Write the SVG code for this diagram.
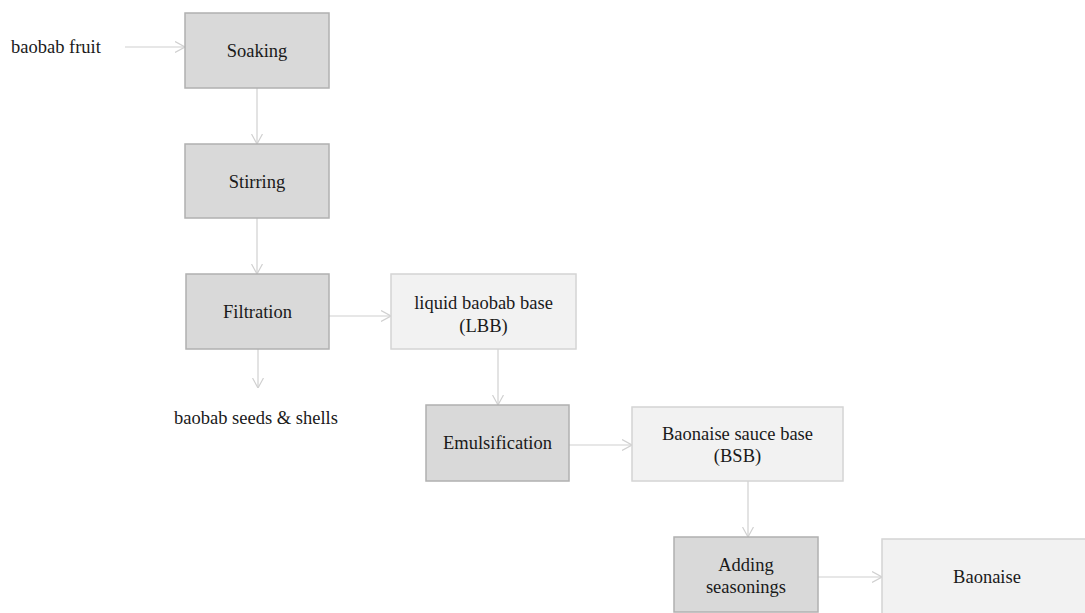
<svg xmlns="http://www.w3.org/2000/svg" width="1085" height="613" viewBox="0 0 1085 613">
<style>
.dark{fill:#d9d9d9;stroke:#b0b0b0;stroke-width:1.5}
.light{fill:#f2f2f2;stroke:#d4d4d4;stroke-width:1.5}
.conn{stroke:#d0d0d0;stroke-width:1.2;fill:none;marker-end:url(#arr)}
</style>
<defs>
<marker id="arr" viewBox="0 0 10 12" refX="10" refY="6" markerWidth="10" markerHeight="12" markerUnits="userSpaceOnUse" orient="auto">
<path d="M0,0.5 L10,6 L0,11.5" fill="none" stroke="#d0d0d0" stroke-width="1.2"/>
</marker>
</defs>
<g id="connectors">
<line class="conn" x1="125" y1="47" x2="185" y2="47"/>
<line class="conn" x1="257" y1="88" x2="257" y2="144"/>
<line class="conn" x1="257" y1="218" x2="257" y2="274"/>
<line class="conn" x1="329" y1="316" x2="391" y2="316"/>
<line class="conn" x1="258" y1="349" x2="258" y2="388"/>
<line class="conn" x1="498" y1="349" x2="498" y2="405"/>
<line class="conn" x1="569" y1="445" x2="632" y2="445"/>
<line class="conn" x1="748" y1="481" x2="748" y2="537"/>
<line class="conn" x1="818" y1="577" x2="882" y2="577"/>
</g>
<g id="baobab-fruit"><text font-family="Liberation Serif" font-size="18.5" fill="#1a1a1a" x="11" y="53">baobab fruit</text></g>
<g id="soaking"><rect class="dark" x="185" y="13" width="144" height="75"/><text font-family="Liberation Serif" font-size="18.5" fill="#1a1a1a" text-anchor="middle" x="257" y="57">Soaking</text></g>
<g id="stirring"><rect class="dark" x="185" y="144" width="144" height="74"/><text font-family="Liberation Serif" font-size="18.5" fill="#1a1a1a" text-anchor="middle" x="257" y="188">Stirring</text></g>
<g id="filtration"><rect class="dark" x="186" y="274" width="143" height="75"/><text font-family="Liberation Serif" font-size="18.5" fill="#1a1a1a" text-anchor="middle" x="257.5" y="318">Filtration</text></g>
<g id="seeds"><text font-family="Liberation Serif" font-size="18.5" fill="#1a1a1a" x="174" y="424">baobab seeds &amp; shells</text></g>
<g id="lbb"><rect class="light" x="391" y="274" width="185" height="75"/><text font-family="Liberation Serif" font-size="18.5" fill="#1a1a1a" text-anchor="middle" x="483.5" y="309">liquid baobab base</text><text font-family="Liberation Serif" font-size="18.5" fill="#1a1a1a" text-anchor="middle" x="483.5" y="332">(LBB)</text></g>
<g id="emulsification"><rect class="dark" x="426" y="405" width="143" height="76"/><text font-family="Liberation Serif" font-size="18.5" fill="#1a1a1a" text-anchor="middle" x="497.5" y="449">Emulsification</text></g>
<g id="bsb"><rect class="light" x="632" y="407" width="211" height="74"/><text font-family="Liberation Serif" font-size="18.5" fill="#1a1a1a" text-anchor="middle" x="737.5" y="440">Baonaise sauce base</text><text font-family="Liberation Serif" font-size="18.5" fill="#1a1a1a" text-anchor="middle" x="737.5" y="462">(BSB)</text></g>
<g id="adding"><rect class="dark" x="674" y="537" width="144" height="75"/><text font-family="Liberation Serif" font-size="18.5" fill="#1a1a1a" text-anchor="middle" x="746" y="571">Adding</text><text font-family="Liberation Serif" font-size="18.5" fill="#1a1a1a" text-anchor="middle" x="746" y="593">seasonings</text></g>
<g id="baonaise"><rect class="light" x="882" y="539" width="210" height="80"/><text font-family="Liberation Serif" font-size="18.5" fill="#1a1a1a" text-anchor="middle" x="987" y="583">Baonaise</text></g>
</svg>
